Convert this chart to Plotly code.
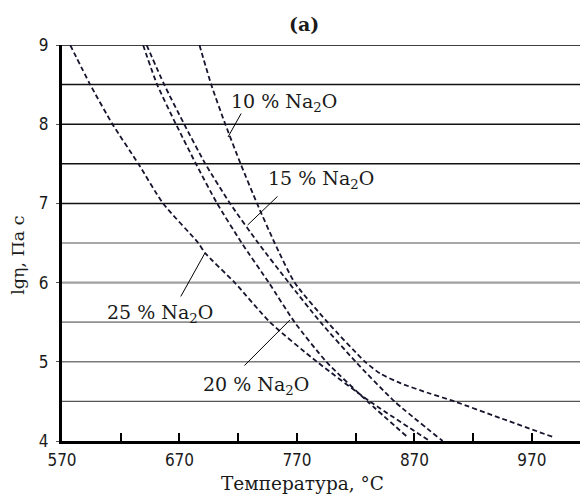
import plotly.graph_objects as go

# ---- data ----
t_10 = [687, 697, 709, 722, 736, 751, 768, 796, 828, 841, 858, 883, 904, 943, 988]
lg_10 = [9.0, 8.5, 8.0, 7.5, 7.0, 6.5, 6.0, 5.5, 5.0, 4.85, 4.73, 4.6, 4.5, 4.29, 4.05]

t_15 = [642, 657, 674, 692, 713, 737, 763, 790, 820, 853, 894]
lg_15 = [9.0, 8.5, 8.0, 7.5, 7.0, 6.5, 6.0, 5.5, 5.0, 4.5, 4.0]

t_20 = [639, 651, 667, 684, 702, 723, 746, 768, 795, 830, 864]
lg_20 = [9.0, 8.5, 8.0, 7.5, 7.0, 6.5, 6.0, 5.5, 5.0, 4.5, 4.05]

t_25 = [577, 594, 613, 635, 656, 686, 692, 717, 747, 787, 832, 883]
lg_25 = [9.0, 8.5, 8.0, 7.5, 7.0, 6.5, 6.37, 6.0, 5.5, 5.0, 4.5, 4.0]

x_tick_vals = [570, 620, 670, 720, 770, 820, 870, 920, 970, 1020]
x_tick_text = ["570", "", "670", "", "770", "", "870", "", "970", ""]
y_tick_vals = [4, 5, 6, 7, 8, 9]

grid_levels = [9.0, 8.5, 8.0, 7.5, 7.0, 6.5, 6.0, 5.5, 5.0, 4.5]
grid_colors = ["#000000", "#111111", "#111111", "#111111", "#111111",
               "#a8a8a8", "#a0a0a0", "#909090", "#7a7a7a", "#555555"]
grid_widths = [1.6, 1.5, 1.5, 1.5, 1.5, 2.2, 2.2, 1.8, 1.6, 1.3]

labels = ["10 % Na<sub>2</sub>O", "15 % Na<sub>2</sub>O",
          "25 % Na<sub>2</sub>O", "20 % Na<sub>2</sub>O"]
label_t = [712.5, 743.5, 607.0, 688.0]
label_lg = [8.27, 7.30, 5.61, 4.70]
pointer_tail_t = [723.2, 754.7, 670.4, 724.0]
pointer_tail_lg = [8.154, 7.106, 5.806, 4.934]
pointer_head_t = [711.3, 728.0, 691.7, 764.0]
pointer_head_lg = [7.838, 6.727, 6.374, 5.528]

SERIF = "DejaVu Serif, Liberation Serif, serif"
NARROW = "Liberation Sans Narrow, DejaVu Sans Condensed, Arial Narrow, sans-serif"
CURVE = "#15152e"

fig = go.Figure()
for t, lg in [(t_10, lg_10), (t_15, lg_15), (t_20, lg_20), (t_25, lg_25)]:
    fig.add_trace(go.Scatter(
        x=t, y=lg, mode="lines",
        line=dict(color=CURVE, width=1.8, dash="5px,3px", shape="spline", smoothing=0.6),
        showlegend=False, hoverinfo="skip"))

shapes = []
for lv, c, w in zip(grid_levels, grid_colors, grid_widths):
    shapes.append(dict(type="line", xref="paper", x0=0, x1=1, yref="y", y0=lv, y1=lv,
                       line=dict(color=c, width=w), layer="below"))

annotations = []
for txt, tx, ty in zip(labels, label_t, label_lg):
    annotations.append(dict(x=tx, y=ty, xref="x", yref="y", text=txt, showarrow=False,
                            xanchor="left", yanchor="middle",
                            font=dict(family=SERIF, size=19, color="#1a1a1a")))
for x0, y0, x1, y1 in zip(pointer_tail_t, pointer_tail_lg, pointer_head_t, pointer_head_lg):
    annotations.append(dict(x=x1, y=y1, xref="x", yref="y", ax=x0, ay=y0,
                            axref="x", ayref="y", text="", showarrow=True,
                            arrowhead=0, arrowwidth=1, arrowcolor="#000000",
                            standoff=0, startstandoff=0))

# axis titles
annotations.append(dict(x=0.458, y=-0.108, xref="paper", yref="paper",
                        text="Температура, °C", showarrow=False,
                        xanchor="center", yanchor="middle",
                        font=dict(family=SERIF, size=18.5, color="#1a1a1a")))
annotations.append(dict(x=-0.0837, y=0.47, xref="paper", yref="paper",
                        text="lgη, Па с", showarrow=False, textangle=-90,
                        xanchor="center", yanchor="middle",
                        font=dict(family=SERIF, size=17.5, color="#1a1a1a")))
# panel title
annotations.append(dict(x=0.46, y=1.054, xref="paper", yref="paper",
                        text="<b>(a)</b>", showarrow=False,
                        xanchor="center", yanchor="middle",
                        font=dict(family=SERIF, size=19, color="#1a1a1a")))

fig.update_layout(
    width=580, height=489,
    margin=dict(l=54, r=0, t=37, b=56),
    paper_bgcolor="white", plot_bgcolor="white",
    shapes=shapes, annotations=annotations,
    xaxis=dict(range=[570, 1017.7], tickmode="array", tickvals=x_tick_vals,
               ticktext=x_tick_text, ticks="inside", ticklen=8, tickwidth=1.5,
               tickcolor="black", showline=True, linewidth=3, linecolor="black",
               showgrid=False, zeroline=False, ticklabelstandoff=2,
               tickfont=dict(family=NARROW, size=17, color="#1a1a1a")),
    yaxis=dict(range=[4, 9], tickmode="array", tickvals=y_tick_vals,
               ticks="outside", ticklen=3, tickwidth=1, tickcolor="#555",
               showline=True, linewidth=3, linecolor="black",
               showgrid=False, zeroline=False, ticklabelstandoff=4,
               tickfont=dict(family=NARROW, size=17, color="#1a1a1a")),
)

fig.write_html("out.html")
